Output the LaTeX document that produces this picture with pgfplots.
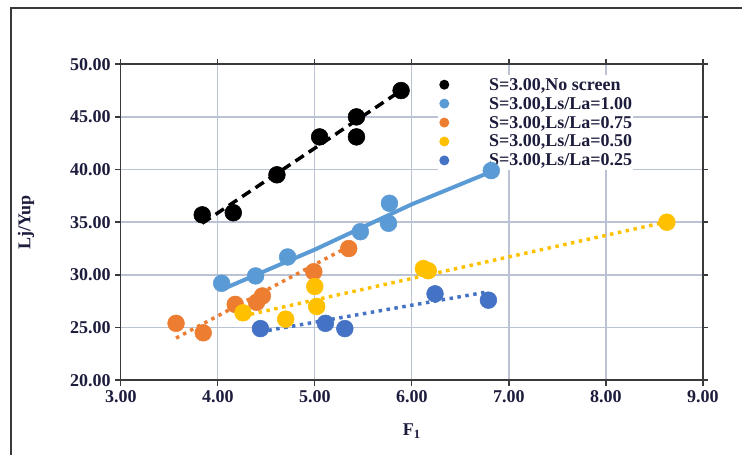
\documentclass[border=0pt]{standalone}
\usepackage{fontspec}
\setmainfont{Liberation Serif}
\usepackage{pgfplots}
\pgfplotsset{compat=1.18}
\definecolor{cltb}{HTML}{5B9BD5}
\definecolor{corg}{HTML}{ED7D31}
\definecolor{cyel}{HTML}{FFC000}
\definecolor{cdkb}{HTML}{4472C4}
\definecolor{gridc}{HTML}{BAC2D4}
\definecolor{axc}{HTML}{3A3A3A}
\definecolor{tickc}{HTML}{1C1C3C}
\pgfplotsset{
  dotleg/.style={legend image code/.code={\path[draw=none,fill=none] (0,0) rectangle (38pt,0); \fill[##1,draw=none] (5pt,0) circle (3.75pt);}},
  frame/.style={at={(124.5,71)}, anchor=south west,
    scale only axis, width=436.5pt, height=237pt,
    xmin=3, xmax=9, ymin=20, ymax=50},
}
\begin{document}
\begin{tikzpicture}[x=0.75pt,y=0.75pt]
\useasboundingbox (0,0) rectangle (742,455);
\draw[line width=1.2pt, color=axc] (11,0) -- (11,447) -- (742,447);
\begin{axis}[
 frame,
 xtick={3,4,...,9}, ytick={20,25,...,50},
 grid=major, major grid style={color=gridc, line width=1.1pt},
 axis line style={color=axc, line width=1.1pt},
 tick style={color=axc, line width=1.1pt},
 tick align=outside, major tick length=4pt,
 /pgf/number format/assume math mode=true,
 ticklabel style={font=\bfseries\fontsize{13.5}{14}\selectfont, text=tickc,
   /pgf/number format/fixed, /pgf/number format/fixed zerofill, /pgf/number format/precision=2},
 xlabel={F\textsubscript{1}}, ylabel={Lj/Yup},
 label style={font=\bfseries\fontsize{13.5}{14}\selectfont, text=tickc},
 xlabel style={at={(axis description cs:0.5,0)}, anchor=center, yshift=-38pt},
 ylabel style={at={(axis description cs:0,0.5)}, anchor=center, rotate=0, yshift=71pt},
 legend cell align=left,
 legend style={at={(0.544,0.966)}, anchor=north west, draw=none, fill=white,
   font=\bfseries\fontsize{13.5}{14}\selectfont, text=tickc, row sep=0pt,
   inner sep=0pt, nodes={inner sep=0.6pt, text height=10.6pt, text depth=2.4pt}},
]
% trendlines
\addplot[forget plot, black, line width=2.6pt, dash pattern=on 7.5pt off 4.5pt] coordinates {(3.84,34.9) (5.89,47.5)};
\addplot[forget plot, cltb, line width=3pt] coordinates {(4.04,28.6) (5.0,32.4) (6.0,36.7) (6.82,39.8)};
\addplot[forget plot, corg, line width=2.6pt, dash pattern=on 2.6pt off 3.4pt] coordinates {(3.57,24.0) (5.35,32.7)};
\addplot[forget plot, cyel, line width=2.6pt, dash pattern=on 2.6pt off 3.4pt] coordinates {(4.26,26.1) (8.61,35.0)};
\addplot[forget plot, cdkb, line width=2.6pt, dash pattern=on 2.6pt off 3.4pt] coordinates {(4.44,24.6) (6.79,28.4)};
\addlegendimage{only marks, mark=*, color=black, dotleg}
\addlegendentry{S=3.00,No screen}
\addlegendimage{only marks, mark=*, color=cltb, dotleg}
\addlegendentry{S=3.00,Ls/La=1.00}
\addlegendimage{only marks, mark=*, color=corg, dotleg}
\addlegendentry{S=3.00,Ls/La=0.75}
\addlegendimage{only marks, mark=*, color=cyel, dotleg}
\addlegendentry{S=3.00,Ls/La=0.50}
\addlegendimage{only marks, mark=*, color=cdkb, dotleg}
\addlegendentry{S=3.00,Ls/La=0.25}
\end{axis}
\begin{axis}[frame, hide axis]
\addplot[only marks, mark=*, mark size=6.3pt, color=black] coordinates {(3.84,35.7) (4.16,35.9) (4.61,39.5) (5.05,43.1) (5.43,45.0) (5.43,43.1) (5.89,47.5)};
\addplot[only marks, mark=*, mark size=6.3pt, color=cltb] coordinates {(4.04,29.2) (4.39,29.9) (4.72,31.7) (5.47,34.1) (5.76,34.9) (5.77,36.8) (6.82,39.9)};
\addplot[only marks, mark=*, mark size=6.3pt, color=corg] coordinates {(3.57,25.4) (3.85,24.5) (4.18,27.2) (4.40,27.4) (4.46,28.0) (4.99,30.3) (5.35,32.5)};
\addplot[only marks, mark=*, mark size=6.3pt, color=cyel] coordinates {(4.26,26.4) (4.70,25.8) (5.00,28.9) (5.02,27.0) (6.12,30.6) (6.17,30.4) (8.63,35.0)};
\addplot[only marks, mark=*, mark size=6.3pt, color=cdkb] coordinates {(4.44,24.9) (5.11,25.4) (5.31,24.9) (6.24,28.2) (6.79,27.6)};
\end{axis}
\end{tikzpicture}
\end{document}
